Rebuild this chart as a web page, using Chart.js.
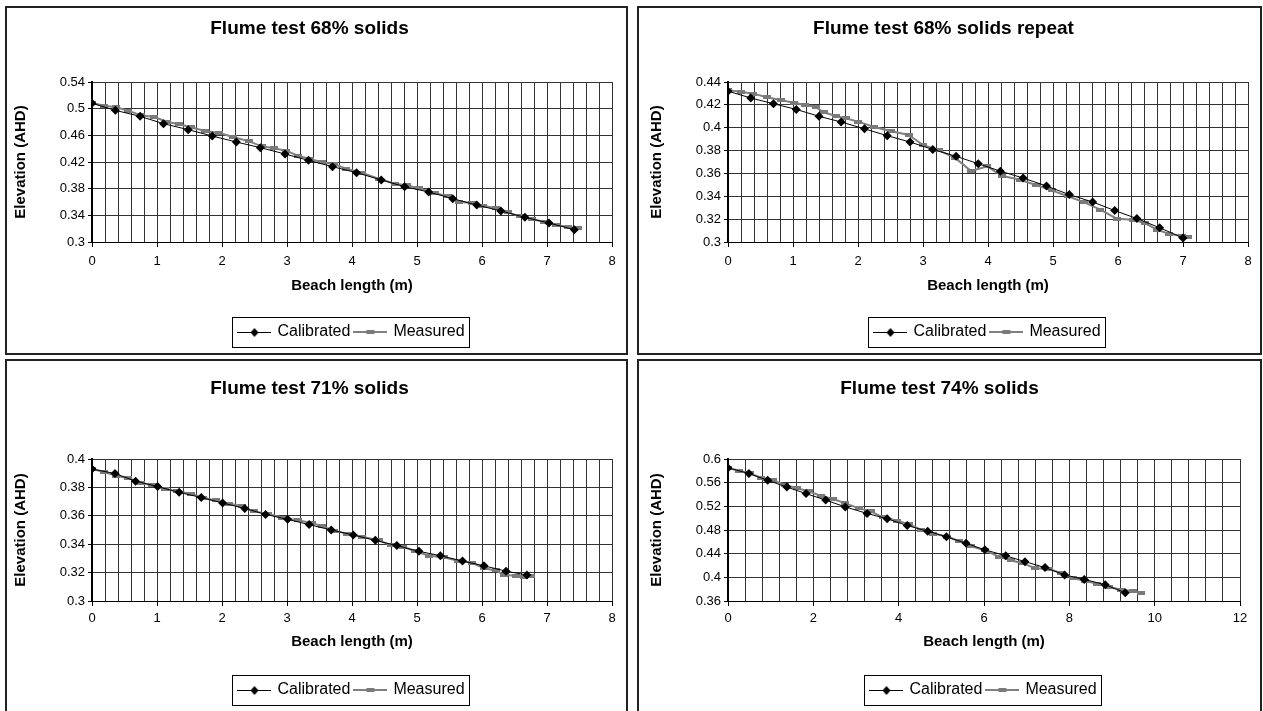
<!DOCTYPE html>
<html>
<head>
<meta charset="utf-8">
<title>Flume tests – beach profiles</title>
<script src="https://cdn.jsdelivr.net/npm/chart.js@4/dist/chart.umd.min.js"></script>
<style>
  html, body { margin: 0; padding: 0; background: #fff; width: 1263px; height: 711px; overflow: hidden; }
  .panel { position: absolute; box-sizing: border-box; border: 2px solid #222; background: #fff; overflow: hidden; }
  .panel canvas { position: absolute; left: 0; top: 0; }
</style>
</head>
<body>
<div class="panel" id="p68"><canvas></canvas></div>
<div class="panel" id="p68r"><canvas></canvas></div>
<div class="panel" id="p71"><canvas></canvas></div>
<div class="panel" id="p74"><canvas></canvas></div>
<script>
// ---- Flume test 68% solids ----
const calib68X = [0, 0.36, 0.74, 1.10, 1.48, 1.85, 2.22, 2.59, 2.97, 3.33, 3.70, 4.07, 4.45, 4.81, 5.18, 5.55, 5.92, 6.29, 6.66, 7.03, 7.42];
const calib68Y = [0.508, 0.4975, 0.4885, 0.4775, 0.4685, 0.459, 0.450, 0.4415, 0.432, 0.4225, 0.413, 0.404, 0.393, 0.383, 0.375, 0.365, 0.3555, 0.3465, 0.337, 0.3285, 0.3185];
const meas68X = [0, 0.19, 0.37, 0.56, 0.75, 0.96, 1.15, 1.34, 1.52, 1.74, 1.96, 2.17, 2.42, 2.61, 2.80, 2.98, 3.17, 3.35, 3.54, 3.73, 3.91, 4.16, 4.41, 4.66, 4.84, 5.03, 5.28, 5.47, 5.65, 5.84, 6.02, 6.21, 6.40, 6.58, 6.77, 6.96, 7.14, 7.33, 7.48];
const meas68Y = [0.5085, 0.5045, 0.502, 0.497, 0.490, 0.4875, 0.4805, 0.4765, 0.472, 0.4665, 0.4635, 0.4575, 0.451, 0.4435, 0.4405, 0.437, 0.4295, 0.4245, 0.4195, 0.4165, 0.410, 0.4035, 0.395, 0.3875, 0.385, 0.3805, 0.3735, 0.3685, 0.3605, 0.3585, 0.354, 0.351, 0.3445, 0.3385, 0.3345, 0.330, 0.326, 0.322, 0.321];

// ---- Flume test 68% solids repeat ----
const calib68rX = [0, 0.35, 0.70, 1.05, 1.40, 1.74, 2.10, 2.45, 2.80, 3.15, 3.51, 3.85, 4.19, 4.54, 4.90, 5.25, 5.61, 5.95, 6.29, 6.64, 7.00];
const calib68rY = [0.432, 0.426, 0.421, 0.416, 0.410, 0.405, 0.399, 0.393, 0.3875, 0.381, 0.375, 0.3685, 0.362, 0.356, 0.349, 0.3415, 0.335, 0.3275, 0.3205, 0.3125, 0.3035];
const meas68rX = [0, 0.20, 0.385, 0.60, 0.82, 1.01, 1.19, 1.35, 1.47, 1.66, 1.81, 2.00, 2.25, 2.50, 2.78, 3.00, 3.24, 3.49, 3.74, 3.99, 4.21, 4.49, 4.74, 4.98, 5.23, 5.48, 5.73, 5.98, 6.23, 6.41, 6.60, 6.79, 6.98, 7.08];
const meas68rY = [0.4327, 0.4315, 0.4298, 0.4266, 0.424, 0.4219, 0.4199, 0.4181, 0.4135, 0.4103, 0.4082, 0.4053, 0.4006, 0.3971, 0.3936, 0.3849, 0.3802, 0.3738, 0.3621, 0.3662, 0.358, 0.3545, 0.3499, 0.3452, 0.340, 0.3347, 0.3283, 0.3204, 0.3195, 0.3166, 0.3108, 0.307, 0.3055, 0.3048];

// ---- Flume test 71% solids ----
const calib71X = [0, 0.354, 0.67, 1.01, 1.34, 1.68, 2.01, 2.35, 2.67, 3.01, 3.34, 3.68, 4.02, 4.36, 4.69, 5.03, 5.36, 5.70, 6.03, 6.37, 6.69];
const calib71Y = [0.3929, 0.3898, 0.3844, 0.3806, 0.3765, 0.3729, 0.369, 0.3652, 0.361, 0.3575, 0.3538, 0.350, 0.3465, 0.3427, 0.339, 0.335, 0.3319, 0.3281, 0.3248, 0.321, 0.3183];
const meas71X = [0, 0.19, 0.37, 0.56, 0.75, 0.93, 1.12, 1.31, 1.52, 1.71, 1.90, 2.11, 2.30, 2.49, 2.70, 2.92, 3.17, 3.39, 3.54, 3.73, 3.92, 4.16, 4.41, 4.60, 4.79, 4.97, 5.19, 5.41, 5.63, 5.84, 6.03, 6.21, 6.34, 6.53, 6.65, 6.76];
const meas71Y = [0.393, 0.3908, 0.3881, 0.3865, 0.3833, 0.3815, 0.3788, 0.3773, 0.3756, 0.3727, 0.3708, 0.3685, 0.3669, 0.3631, 0.3615, 0.3588, 0.3569, 0.3548, 0.3527, 0.3494, 0.3475, 0.3452, 0.3427, 0.3392, 0.3381, 0.335, 0.3319, 0.3308, 0.3283, 0.3271, 0.3231, 0.3215, 0.3183, 0.3177, 0.3169, 0.3177];

// ---- Flume test 74% solids ----
const calib74X = [0, 0.49, 0.93, 1.38, 1.83, 2.29, 2.75, 3.26, 3.73, 4.20, 4.68, 5.12, 5.58, 6.02, 6.51, 6.96, 7.43, 7.89, 8.35, 8.84, 9.31];
const calib74Y = [0.585, 0.5755, 0.564, 0.5525, 0.5415, 0.5305, 0.519, 0.508, 0.499, 0.4875, 0.478, 0.4685, 0.4575, 0.4465, 0.4365, 0.4265, 0.4165, 0.404, 0.3965, 0.3875, 0.374];
const meas74X = [0, 0.25, 0.51, 0.77, 1.05, 1.33, 1.61, 1.89, 2.18, 2.46, 2.74, 3.07, 3.35, 3.63, 3.96, 4.24, 4.52, 4.80, 5.13, 5.41, 5.69, 6.02, 6.35, 6.63, 6.91, 7.20, 7.52, 7.80, 8.09, 8.37, 8.65, 8.93, 9.21, 9.49, 9.68];
const meas74Y = [0.585, 0.5805, 0.5755, 0.5685, 0.564, 0.5565, 0.5505, 0.5455, 0.5375, 0.5325, 0.5255, 0.5165, 0.5115, 0.5015, 0.4955, 0.490, 0.4805, 0.474, 0.469, 0.4615, 0.4525, 0.4455, 0.435, 0.429, 0.4235, 0.4155, 0.414, 0.4075, 0.3985, 0.394, 0.389, 0.3835, 0.379, 0.3765, 0.374];

const seriesNames = ['Calibrated', 'Measured'];
const xTitle = 'Beach length (m)';
const yTitle = 'Elevation (AHD)';

const FONT = 'Arial, "Liberation Sans", Helvetica, sans-serif';
const BORDER = 2;

function zip(xs, ys) { return xs.map((x, i) => ({ x: x, y: ys[i] })); }

// Small canvases used as marker / legend-sample glyphs
function rectMarker() {
  const c = document.createElement('canvas');
  c.width = 8; c.height = 4;
  const g = c.getContext('2d');
  g.fillStyle = '#7a7a7a';
  g.fillRect(0, 0, 8, 4);
  return c;
}
function legendSample(kind) {
  const c = document.createElement('canvas');
  c.width = 34; c.height = 12;
  const g = c.getContext('2d');
  if (kind === 0) {
    g.strokeStyle = '#000'; g.lineWidth = 1;
    g.beginPath(); g.moveTo(0, 6.5); g.lineTo(34, 6.5); g.stroke();
    g.fillStyle = '#000';
    g.beginPath(); g.moveTo(17, 2); g.lineTo(21, 6.5); g.lineTo(17, 11); g.lineTo(13, 6.5); g.closePath(); g.fill();
  } else {
    g.strokeStyle = '#808080'; g.lineWidth = 2;
    g.beginPath(); g.moveTo(0, 6); g.lineTo(34, 6); g.stroke();
    g.fillStyle = '#7a7a7a';
    g.fillRect(13, 4, 8, 4);
  }
  return c;
}
const MEAS_MARK = rectMarker();
const SAMPLES = [legendSample(0), legendSample(1)];

// Outlined box around the legend entries
const legendFrame = {
  id: 'legendFrame',
  afterDraw(chart) {
    const lg = chart.legend;
    if (!lg || !lg.legendHitBoxes || !lg.legendHitBoxes.length) return;
    const hb = lg.legendHitBoxes;
    const a = hb[0], z = hb[hb.length - 1];
    const cy = a.top + a.height / 2;
    const l = Math.round(a.left - 7) + 0.5;
    const r = Math.round(z.left + z.width + 4) + 0.5;
    const t = Math.round(cy - 15) + 0.5;
    const b = Math.round(cy + 15) + 0.5;
    const ctx = chart.ctx;
    ctx.save();
    ctx.strokeStyle = '#000';
    ctx.lineWidth = 1;
    ctx.strokeRect(l, t, r - l, b - t);
    ctx.restore();
  }
};

function isMajor(v, step) {
  const q = v / step;
  return Math.abs(q - Math.round(q)) < 1e-6;
}

function buildPanel(id, cfg) {
  const el = document.getElementById(id);
  const [px, py, pw, ph] = cfg.rect;
  el.style.left = px + 'px'; el.style.top = py + 'px';
  el.style.width = pw + 'px'; el.style.height = ph + 'px';
  const ox = px + BORDER, oy = py + BORDER;
  const cw = pw - 2 * BORDER, ch = ph - 2 * BORDER;
  const cv = el.querySelector('canvas');
  cv.width = cw; cv.height = ch;
  cv.style.width = cw + 'px'; cv.style.height = ch + 'px';

  const [pl, pt, pr, pb] = cfg.plot;
  const titleSize = 19, titleLH = titleSize * 1.2;
  const titlePadTop = (cfg.titleY - oy) - titleLH / 2;
  const titlePadBottom = (pt - oy) - titlePadTop - titleLH;

  const tickSize = 13, tickLH = tickSize * 1.2;
  const axisTitleSize = 15, axisTitleLH = axisTitleSize * 1.2;
  const legendSize = 16, legendPad = 5;
  const legendTop = cfg.legendY - legendPad - legendSize / 2;
  const xScaleH = legendTop - pb;
  const xTickLen = 5;
  const xTickPad = (cfg.xLabelY - pb) - xTickLen - tickLH / 2;
  const xTitlePadBottom = xScaleH - (cfg.xTitleY - pb) - axisTitleLH / 2;
  const legendH = legendSize + legendPad + 10;
  const bottomPad = Math.max(0, ch - ((legendTop - oy) + legendH));

  const yScaleW = pl - ox;
  const yTitlePadTop = (cfg.yTitleX - ox) - axisTitleLH / 2;

  new Chart(cv, {
    type: 'scatter',
    data: {
      datasets: [
        {
          label: seriesNames[0],
          data: zip(cfg.calX, cfg.calY),
          showLine: true,
          borderColor: '#000',
          borderWidth: 1,
          backgroundColor: '#000',
          pointStyle: 'rectRot',
          pointRadius: 4.5,
          pointBorderWidth: 0,
          pointBackgroundColor: '#000'
        },
        {
          label: seriesNames[1],
          data: zip(cfg.measX, cfg.measY),
          showLine: true,
          borderColor: '#808080',
          borderWidth: 2,
          backgroundColor: '#7a7a7a',
          pointStyle: MEAS_MARK,
          pointRadius: 3
        }
      ]
    },
    options: {
      responsive: false,
      animation: false,
      devicePixelRatio: 1,
      events: [],
      layout: { padding: { left: 0, top: 0, right: (ox + cw) - pr, bottom: bottomPad } },
      plugins: {
        tooltip: { enabled: false },
        title: {
          display: true,
          text: cfg.title,
          color: '#000',
          font: { family: FONT, size: titleSize, weight: 'bold', lineHeight: 1.2 },
          padding: { top: titlePadTop, bottom: titlePadBottom }
        },
        legend: {
          display: true,
          position: 'bottom',
          fullSize: false,
          labels: {
            color: '#000',
            font: { family: FONT, size: legendSize },
            padding: legendPad,
            usePointStyle: true,
            pointStyleWidth: 30,
            generateLabels(chart) {
              const items = Chart.defaults.plugins.legend.labels.generateLabels(chart);
              items.forEach((it, i) => { it.pointStyle = SAMPLES[i]; });
              return items;
            }
          }
        }
      },
      scales: {
        x: {
          type: 'linear',
          min: 0, max: cfg.xMax,
          afterFit(s) { s.height = xScaleH; },
          ticks: {
            stepSize: cfg.xMinor,
            autoSkip: false,
            maxRotation: 0,
            color: '#000',
            padding: xTickPad,
            font: { family: FONT, size: tickSize, lineHeight: 1.2 },
            callback: (v) => isMajor(v, cfg.xMajor) ? String(Math.round(v)) : ''
          },
          grid: {
            color: '#333',
            lineWidth: 1,
            tickLength: xTickLen,
            tickColor: (c) => (c.tick && isMajor(c.tick.value, cfg.xMajor)) ? '#000' : 'rgba(0,0,0,0)'
          },
          border: { color: '#000', width: 1 },
          title: {
            display: true,
            text: xTitle,
            color: '#000',
            font: { family: FONT, size: axisTitleSize, weight: 'bold', lineHeight: 1.2 },
            padding: { top: 0, bottom: xTitlePadBottom }
          }
        },
        y: {
          type: 'linear',
          min: cfg.yMin, max: cfg.yMax,
          afterFit(s) { s.width = yScaleW; },
          ticks: {
            stepSize: cfg.yStep,
            color: '#000',
            padding: 3,
            font: { family: FONT, size: tickSize, lineHeight: 1.2 },
            callback: (v) => String(+v.toFixed(4))
          },
          grid: { color: '#333', lineWidth: 1, tickLength: 4, tickColor: '#000' },
          border: { color: '#000', width: 2 },
          title: {
            display: true,
            text: yTitle,
            color: '#000',
            font: { family: FONT, size: axisTitleSize, weight: 'bold', lineHeight: 1.2 },
            padding: { top: yTitlePadTop, bottom: 0 }
          }
        }
      }
    },
    plugins: [legendFrame]
  });
}

buildPanel('p68', {
  title: 'Flume test 68% solids',
  rect: [5, 6, 623, 349], plot: [92, 82, 612, 242],
  titleY: 29, xLabelY: 261, xTitleY: 286, legendY: 332, yTitleX: 21,
  xMax: 8, xMinor: 0.2, xMajor: 1, yMin: 0.3, yMax: 0.54, yStep: 0.04,
  calX: calib68X, calY: calib68Y, measX: meas68X, measY: meas68Y
});
buildPanel('p68r', {
  title: 'Flume test 68% solids repeat',
  rect: [637, 6, 625, 349], plot: [728, 82, 1248, 242],
  titleY: 29, xLabelY: 261, xTitleY: 286, legendY: 332, yTitleX: 657,
  xMax: 8, xMinor: 0.2, xMajor: 1, yMin: 0.3, yMax: 0.44, yStep: 0.02,
  calX: calib68rX, calY: calib68rY, measX: meas68rX, measY: meas68rY
});
buildPanel('p71', {
  title: 'Flume test 71% solids',
  rect: [5, 359, 623, 362], plot: [92, 459, 612, 601],
  titleY: 389, xLabelY: 618, xTitleY: 642, legendY: 690, yTitleX: 21,
  xMax: 8, xMinor: 0.2, xMajor: 1, yMin: 0.3, yMax: 0.4, yStep: 0.02,
  calX: calib71X, calY: calib71Y, measX: meas71X, measY: meas71Y
});
buildPanel('p74', {
  title: 'Flume test 74% solids',
  rect: [637, 359, 625, 362], plot: [728, 459, 1240, 601],
  titleY: 389, xLabelY: 618, xTitleY: 642, legendY: 690, yTitleX: 657,
  xMax: 12, xMinor: 0.4, xMajor: 2, yMin: 0.36, yMax: 0.6, yStep: 0.04,
  calX: calib74X, calY: calib74Y, measX: meas74X, measY: meas74Y
});
</script>
</body>
</html>
